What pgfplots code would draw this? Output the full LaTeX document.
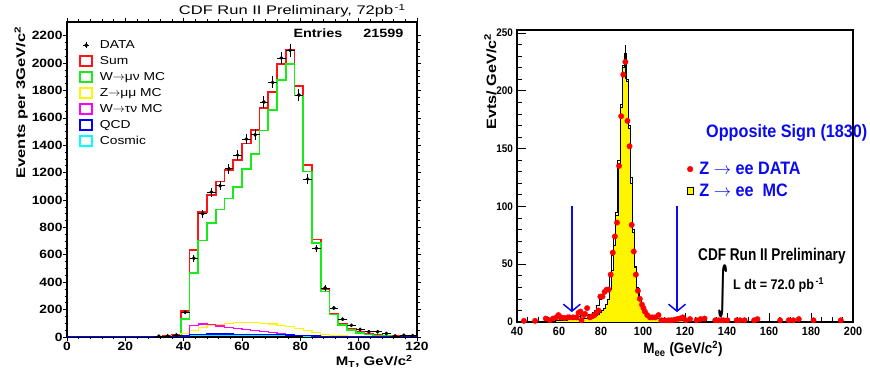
\documentclass[border=0pt]{standalone}
\usepackage{fontspec}
\setmainfont{Liberation Sans}
\newfontfamily\lw{Liberation Sans}[FakeStretch=1.2]
\newfontfamily\lt{Liberation Sans}[FakeStretch=1.15]
\newfontfamily\lww{Liberation Sans}[FakeStretch=1.32]
\newfontfamily\rc{Liberation Sans}[FakeStretch=0.9]
\newfontfamily\rcc{Liberation Sans}[FakeStretch=0.8]
\newfontfamily\dejavu{DejaVu Sans}
\usepackage{pgfplots}
\pgfplotsset{compat=1.18}
\usetikzlibrary{arrows.meta}
\definecolor{hred}{RGB}{255,20,20}
\definecolor{hgreen}{RGB}{25,235,25}
\definecolor{hyellow}{RGB}{255,245,0}
\definecolor{hmag}{RGB}{255,0,255}
\definecolor{hblue}{RGB}{0,0,255}
\definecolor{hcyan}{RGB}{0,255,255}
\definecolor{tblue}{RGB}{10,10,240}
\newcommand{\ar}{\ensuremath{\rightarrow}}

\pgfplotstableread{
x sum wmu zmu wtau qcd cos
0 0 0 0 0 0 0
30 5 2 3 0.5 1 1
33 9 4 5 1 1 1
36 16 6 10 2 2 2
39 188 130 25 12 8 6
42 634 468 50 85 17 12
45 912 705 70 95 21 14
48 1035 832 83 90 22 15
51 1134 930 93 80 22 15
54 1219 1012 100 72 22 15
57 1292 1095 105 62 21 14
60 1414 1226 107 55 21 14
63 1512 1336 105 48 20 13
66 1670 1509 100 40 19 13
69 1790 1658 95 32 18 12
72 1995 1878 86 25 16 11
75 2098 1995 76 18 14 10
78 1834 1763 60 12 12 9
81 1256 1207 45 8 9 8
84 712 688 30 5 7 6
87 351 332 20 3 5 4
90 171 163 13 2 3 3
93 98 88 8 1 2 2
96 63 49 5 1 1 1
99 41 29 3 0.5 1 1
102 24 18 2 0.5 0.5 0.5
105 15 12 2 0 0.5 0.5
108 10 8 1 0 0 0
111 7 5 1 0 0 0
114 5 4 1 0 0 0
117 4 3 0.5 0 0 0
120 4 3 0.5 0 0 0
}\mthist

\pgfplotstableread{
x y e
31.5 5 2.2
34.5 8 2.8
37.5 15 3.9
40.5 180 13.4
43.5 575 24
46.5 900 30
49.5 1058 32.5
52.5 1104 33.2
55.5 1228 35
58.5 1328 36.4
61.5 1445 38
64.5 1477 38.4
67.5 1716 41.4
70.5 1859 43.1
73.5 2037 45.1
76.5 2093 45.7
79.5 1767 42
82.5 1153 34
85.5 648 25.5
88.5 358 19
91.5 212 14.6
94.5 130 11.4
97.5 85 9.2
100.5 55 7.4
103.5 38 6.2
106.5 38 6.2
109.5 25 5
112.5 8 2.8
115.5 12 3.5
118.5 10 3.2
}\mtdata

\pgfplotstableread{
x y
40 0.5
50 1
58 1.5
64 2
68 2.5
70 3
72 3.5
74 4
76 5
77 6
78 7
79 8
80 10
81 12
82 15
83 20
84 28
85 45
86 66
87 92
88 137
89 186
90 220
91 228
92 208
93 168
94 120
95 78
96 47
97 29
98 20
99 14
100 10
101 7.5
102 6
103 4.5
104 4
105 3.5
106 3
108 2.5
110 2
114 1.5
120 1
130 0.7
150 0.4
200 0.4
}\zmc

\pgfplotstableread{
x y
60 3
62 3
64 4
66 4
68 5
70 6
72 6
74 7
76 8
77 10
78 14
79 20
80 23
81 25
82 27
83 30
84 40
85 58
86 72
87 95
88 140
89 188
90 222
91 232
92 210
93 170
94 125
95 80
96 48
97 30
98 21
99 15
100 11
101 8
102 6
103 5
104 4
106 3
108 3
110 2
112 2
}\zline

\pgfplotstableread{
x y
43.3 1
48.6 1
53.7 3
55.6 1.5
57.2 3
58.8 4
59.7 6
61.0 4
62.6 3.5
64.2 4
65.0 4
66.7 4
68.3 4
69.3 8
70.2 9
70.7 1.5
71.8 6
72.4 7
73.4 12
74.7 4
75.9 5
76.9 6
77.8 8
78.8 10
79.7 22
80.7 22
81.7 26
82.7 28
83.6 28
84.6 41
85.6 60
86.6 74
87.6 86
88.6 135
89.6 178
90.6 214
91.6 225
92.6 174
93.6 152
94.6 84
95.6 61
96.6 41
97.6 27
98.5 20
99.5 15
100.2 12
100.9 9
102.0 6
103.3 4
104.5 4
105.8 4
107.4 6
108.7 1.5
110.3 1.5
112.2 1.5
113.5 1.5
115.0 2
116.3 2.5
117.6 3
118.9 4
120.4 1.5
122.4 2.5
125.5 1.5
127.4 2.5
129.3 3
134.4 1.5
136.0 1.5
137.3 1.5
138.3 1.5
140.2 1.5
144.6 1.5
146.2 1.5
148.4 1.5
152.9 1.5
154.5 2.5
165.3 1.5
169.4 1.5
171.6 1.5
174.2 2.5
181.2 1.5
194.2 1.5
}\zdata

\begin{document}
\begin{tikzpicture}
\useasboundingbox (0pt,0pt) rectangle (870pt,374pt);

% ---------------- left panel ----------------
\begin{axis}[
  at={(67pt,37pt)}, anchor=south west, scale only axis,
  width=350pt, height=315pt,
  xmin=0, xmax=120, ymin=0, ymax=2300,
  axis line style={line width=1.1pt},
  tick align=outside, major tick length=4pt, minor tick length=2.5pt,
  every tick/.style={black, line width=0.7pt},
  xtick={0,20,...,120}, ytick={0,200,...,2200},
  minor x tick num=4, minor y tick num=3,
  /pgf/number format/assume math mode=true,
  /pgf/number format/set thousands separator={},
  ticklabel style={font=\lt\bfseries\fontsize{12}{13}\selectfont},
  xticklabel style={yshift=2.5pt},
  yticklabel style={xshift=3pt},
  legend style={at={(axis description cs:0.035,0.948)}, anchor=north west,
     draw=none, fill=none, inner sep=0pt,
     font=\lw\fontsize{11.5}{12}\selectfont, row sep=2.4pt,
     /tikz/every odd column/.append style={column sep=5pt}},
  legend cell align=left,
]
\addlegendimage{legend image code/.code={\fill[black] (6pt,0pt) circle (1.8pt); \draw[black,line width=0.6pt] (3pt,0pt)--(9pt,0pt) (6pt,-3pt)--(6pt,3pt);}}
\addlegendentry{DATA}
\addlegendimage{legend image code/.code={\draw[hred,line width=1.5pt] (0pt,-5pt) rectangle (12pt,5pt);}}
\addlegendentry{Sum}
\addlegendimage{legend image code/.code={\draw[hgreen,line width=1.5pt] (0pt,-5pt) rectangle (12pt,5pt);}}
\addlegendentry{W\ar μν MC}
\addlegendimage{legend image code/.code={\draw[hyellow,line width=1.5pt] (0pt,-5pt) rectangle (12pt,5pt);}}
\addlegendentry{Z\ar μμ MC}
\addlegendimage{legend image code/.code={\draw[hmag,line width=1.5pt] (0pt,-5pt) rectangle (12pt,5pt);}}
\addlegendentry{W\ar τν MC}
\addlegendimage{legend image code/.code={\draw[hblue,line width=1.5pt] (0pt,-5pt) rectangle (12pt,5pt);}}
\addlegendentry{QCD}
\addlegendimage{legend image code/.code={\draw[hcyan,line width=1.5pt] (0pt,-5pt) rectangle (12pt,5pt);}}
\addlegendentry{Cosmic}

\addplot[const plot mark left, hred, line width=1.6pt, forget plot] table[x=x,y=sum] {\mthist};
\addplot[const plot mark left, hgreen, line width=1.6pt, forget plot] table[x=x,y=wmu] {\mthist};
\addplot[const plot mark left, hyellow, line width=1.2pt, forget plot] table[x=x,y=zmu] {\mthist};
\addplot[const plot mark left, hmag, line width=1.2pt, forget plot] table[x=x,y=wtau] {\mthist};
\addplot[const plot mark left, hcyan, line width=1.2pt, forget plot] table[x=x,y=cos] {\mthist};
\addplot[const plot mark left, hblue, line width=1.2pt, forget plot] table[x=x,y=qcd] {\mthist};
\addplot[only marks, mark=*, mark size=1.7pt, black, forget plot,
  error bars/.cd, x dir=both, x fixed=1.5, y dir=both, y explicit,
  error bar style={line width=0.8pt, black}, error mark=none]
  table[x=x,y=y,y error=e] {\mtdata};
\end{axis}

\node[anchor=base east, font=\lww\fontsize{12.5}{13}\selectfont] at (409pt,359pt) {CDF Run II Preliminary, 72pb\textsuperscript{\,-1}};
\node[anchor=base west, font=\lw\bfseries\fontsize{12}{13}\selectfont] at (290pt,336pt) {Entries};
\node[anchor=base east, font=\lw\bfseries\fontsize{12}{13}\selectfont] at (407pt,336pt) {21599};
\node[anchor=base east, font=\lw\bfseries\fontsize{12.5}{13}\selectfont] at (416pt,8pt) {M\textsubscript{T}, GeV/c\textsuperscript{2}};
\node[rotate=90, anchor=base east, font=\lww\bfseries\fontsize{12.5}{13}\selectfont] at (25pt,351pt) {Events per 3GeV/c\textsuperscript{2}};

% ---------------- right panel ----------------
\begin{axis}[
  at={(517pt,52pt)}, anchor=south west, scale only axis,
  width=336pt, height=292pt,
  xmin=40, xmax=200, ymin=0, ymax=252.6,
  axis line style={line width=1.1pt},
  tick align=inside, major tick length=9pt, minor tick length=4.5pt,
  every tick/.style={black, line width=0.7pt},
  xtick pos=bottom, ytick pos=left,
  xtick={40,60,...,200}, ytick={0,50,...,250},
  minor x tick num=3, minor y tick num=4,
  /pgf/number format/assume math mode=true,
  xticklabel style={font=\rc\bfseries\fontsize{12}{13}\selectfont, yshift=-2pt},
  yticklabel style={font=\rc\bfseries\fontsize{11}{12}\selectfont, xshift=-0.5pt},
  legend style={at={(axis description cs:0.505,0.555)}, anchor=north west,
     draw=none, fill=none, inner sep=0pt,
     font=\rc\bfseries\fontsize{18}{19}\selectfont, text=tblue, row sep=4pt,
     /tikz/every odd column/.append style={column sep=4pt}},
  legend cell align=left,
]
\addlegendimage{legend image code/.code={\fill[red] (4pt,0pt) circle (2.8pt);}}
\addlegendentry{Z \ar\ ee DATA}
\addlegendimage{legend image code/.code={\draw[fill=hyellow,draw=black,line width=0.5pt] (1pt,-3.5pt) rectangle (7pt,3.5pt);}}
\addlegendentry{Z \ar\ ee \ MC}

\addplot[const plot mark left, fill=hyellow, draw=black, line width=0.5pt, forget plot] table[x=x,y=y] {\zmc} \closedcycle;
\addplot[const plot mark left, black, line width=0.7pt, forget plot] table[x=x,y=y] {\zline};
\addplot[only marks, mark=none, forget plot, error bars/.cd, y dir=both, y explicit,
  error bar style={black, line width=0.8pt}, error mark=none]
  coordinates {(91.6,225) +- (0,15)};
\addplot[only marks, mark=*, mark size=2.7pt, red, mark options={draw=red, fill=red}, forget plot] table[x=x,y=y] {\zdata};

\draw[tblue, line width=1.5pt, -{Straight Barb[length=7pt, width=17pt]}] (axis cs:66.1,100) -- (axis cs:66.1,8.5);
\draw[tblue, line width=1.5pt, -{Straight Barb[length=7pt, width=17pt]}] (axis cs:116.2,100) -- (axis cs:116.2,8.5);
\end{axis}

\node[anchor=base west, inner sep=0pt, text=tblue, font=\rc\bfseries\fontsize{18}{19}\selectfont] at (706pt,236pt) {Opposite Sign (1830)};
\node[anchor=base west, inner sep=0pt, font=\rcc\bfseries\fontsize{17}{18}\selectfont] at (698pt,113pt) {CDF Run II Preliminary};
\node[inner sep=0pt] at (723pt,83pt) {\resizebox*{10pt}{53pt}{\dejavu\bfseries ∫}};
\node[anchor=base west, inner sep=0pt, font=\rc\bfseries\fontsize{14}{15}\selectfont] at (733pt,84pt) {L dt = 72.0 pb\textsuperscript{\,-1}};
\node[anchor=base, font=\rc\bfseries\fontsize{15}{16}\selectfont] at (683pt,20pt) {M\textsubscript{ee} (GeV/c\textsuperscript{2})};
\node[rotate=90, anchor=base east, font=\lw\bfseries\fontsize{13.5}{14}\selectfont] at (496pt,344pt) {Evts/ GeV/c\textsuperscript{2}};
\end{tikzpicture}
\end{document}
